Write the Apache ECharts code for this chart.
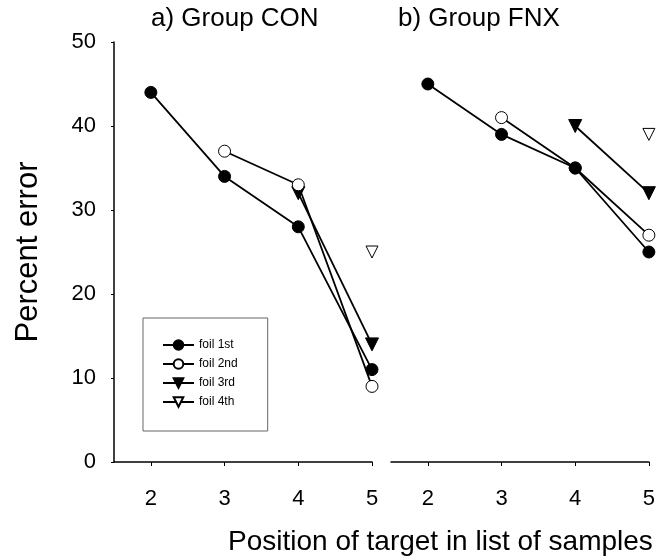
<!DOCTYPE html>
<html>
<head>
<meta charset="utf-8">
<script src="https://cdn.jsdelivr.net/npm/echarts@6/dist/echarts.min.js"></script>
<style>
  html, body { margin: 0; padding: 0; background: #fff; }
  #chart { width: 658px; height: 560px; }
</style>
</head>
<body>
<div id="chart"></div>
<script>
// target position in list (x) and percent error per foil position
var positions = [2, 3, 4, 5];
var foilNames = ['foil 1st', 'foil 2nd', 'foil 3rd', 'foil 4th'];

var conFoil1 = [44, 34, 28, 11];
var conFoil2 = [null, 37, 33, 9];
var conFoil3 = [null, null, 32, 14];
var conFoil4 = [null, null, null, 25];

var fnxFoil1 = [45, 39, 35, 25];
var fnxFoil2 = [null, 41, 35, 27];
var fnxFoil3 = [null, null, 40, 32];
var fnxFoil4 = [null, null, null, 39];

var FONT = "'Liberation Sans', Arial, sans-serif";

function pairs(vals) {
	var out = [];
	for (var i = 0; i < positions.length; i++) {
		if (vals[i] != null) out.push([positions[i], vals[i]]);
	}
	return out;
}

var markers = [
	{ symbol: 'circle', rot: 0, size: 12, fill: '#000' },
	{ symbol: 'circle', rot: 0, size: 12, fill: '#fff' },
	{ symbol: 'triangle', rot: 180, size: 13, fill: '#000' },
	{ symbol: 'triangle', rot: 180, size: 12, fill: '#fff' }
];

function makeSeries(idx, vals, k) {
	var m = markers[k];
	return {
		type: 'line',
		name: foilNames[k],
		xAxisIndex: idx,
		yAxisIndex: idx,
		data: pairs(vals),
		symbol: m.symbol,
		symbolRotate: m.rot,
		symbolSize: m.size,
		showAllSymbol: true,
		lineStyle: { color: '#000', width: 1.8 },
		itemStyle: { color: m.fill, borderColor: '#000', borderWidth: 1 },
		emphasis: { disabled: true },
		z: 10 - k,
		animation: false
	};
}

function xAxisFor(idx) {
	return {
		type: 'value',
		gridIndex: idx,
		min: 1.5,
		max: 5,
		axisLine: { show: true, lineStyle: { color: '#000', width: 1.5 } },
		axisTick: { show: true, customValues: positions, length: 4, lineStyle: { color: '#000' } },
		axisLabel: { customValues: positions, color: '#000', fontSize: 22, fontFamily: FONT, margin: 26 },
		splitLine: { show: false }
	};
}

var chart = echarts.init(document.getElementById('chart'));

chart.setOption({
	backgroundColor: '#fff',
	textStyle: { fontFamily: FONT },
	animation: false,
	grid: [
		{ left: 114, right: 286, top: 42, bottom: 98 },
		{ left: 391, right: 8, top: 42, bottom: 98 }
	],
	xAxis: [xAxisFor(0), xAxisFor(1)],
	yAxis: [
		{
			type: 'value', gridIndex: 0, min: 0, max: 50, interval: 10,
			axisLine: { show: true, lineStyle: { color: '#000', width: 1.5 } },
			axisTick: { show: true, length: 3, lineStyle: { color: '#000' } },
			axisLabel: { color: '#000', fontSize: 22, fontFamily: FONT, margin: 18 },
			splitLine: { show: false },
			name: 'Percent error',
			nameLocation: 'middle',
			nameGap: 70,
			nameTextStyle: { color: '#000', fontSize: 31, fontFamily: FONT }
		},
		{ type: 'value', gridIndex: 1, min: 0, max: 50, show: false }
	],
	legend: {
		orient: 'vertical',
		left: 143,
		top: 318,
		padding: [21, 30, 23, 19],
		itemWidth: 31,
		itemHeight: 12,
		itemGap: 7,
		borderColor: '#666',
		borderWidth: 1,
		selectedMode: false,
		data: foilNames,
		textStyle: { color: '#000', fontSize: 12, fontFamily: FONT }
	},
	graphic: [
		{ type: 'text', left: 151, top: 6, style: { text: 'a) Group CON', fontSize: 26, fontFamily: FONT, fill: '#000' } },
		{ type: 'text', left: 398, top: 6, style: { text: 'b) Group FNX', fontSize: 26, fontFamily: FONT, fill: '#000' } },
		{ type: 'text', left: 228, top: 528, style: { text: 'Position of target in list of samples', fontSize: 28, fontFamily: FONT, fill: '#000' } }
	],
	series: [
		makeSeries(0, conFoil1, 0),
		makeSeries(0, conFoil2, 1),
		makeSeries(0, conFoil3, 2),
		makeSeries(0, conFoil4, 3),
		makeSeries(1, fnxFoil1, 0),
		makeSeries(1, fnxFoil2, 1),
		makeSeries(1, fnxFoil3, 2),
		makeSeries(1, fnxFoil4, 3)
	]
});
</script>
</body>
</html>
